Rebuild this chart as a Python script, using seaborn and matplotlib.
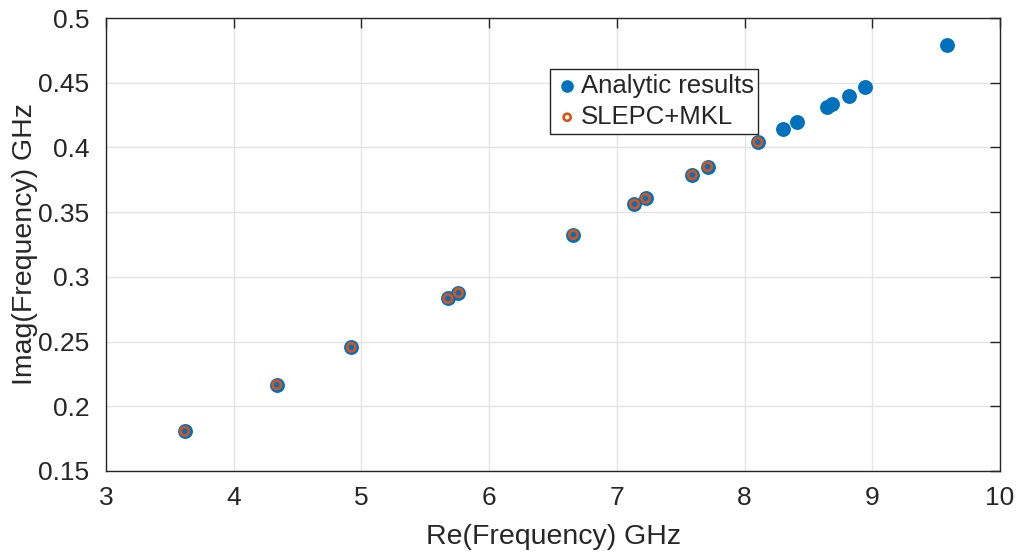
import matplotlib
matplotlib.use("Agg")
import matplotlib.pyplot as plt
import seaborn as sns
import pandas as pd

# Analytic results (all modes)
analytic_re = [3.616, 4.337, 4.921, 5.677, 5.760, 6.659, 7.138, 7.225, 7.591, 7.711,
               8.104, 8.297, 8.410, 8.643, 8.682, 8.821, 8.940, 9.588]
analytic_im = [0.1807, 0.2166, 0.2456, 0.2833, 0.2877, 0.3326, 0.3562, 0.3606, 0.3787, 0.3851,
               0.4041, 0.4141, 0.4195, 0.4316, 0.4333, 0.4398, 0.4465, 0.4788]

# SLEPC+MKL computed modes
slepc_re = [3.616, 4.337, 4.921, 5.677, 5.760, 6.659, 7.138, 7.225, 7.591, 7.711, 8.104]
slepc_im = [0.1807, 0.2166, 0.2456, 0.2833, 0.2877, 0.3326, 0.3562, 0.3606, 0.3787, 0.3851, 0.4041]

x_ticks = [3, 4, 5, 6, 7, 8, 9, 10]
y_ticks = [0.15, 0.2, 0.25, 0.3, 0.35, 0.4, 0.45, 0.5]
y_tick_labels = ["0.15", "0.2", "0.25", "0.3", "0.35", "0.4", "0.45", "0.5"]

sns.set_theme(style="whitegrid")
plt.rcParams["font.family"] = ["Liberation Sans", "DejaVu Sans"]

blue = "#0072BD"
orange = "#D95319"

fig = plt.figure(figsize=(10.19, 5.56), dpi=100)
ax = fig.add_axes([106 / 1019, 1 - 471 / 556, 894 / 1019, 453 / 556])

df_a = pd.DataFrame({"re": analytic_re, "im": analytic_im})
df_s = pd.DataFrame({"re": slepc_re, "im": slepc_im})

sns.scatterplot(data=df_a, x="re", y="im", ax=ax, s=115, color=blue,
                edgecolor=blue, linewidth=0, label="Analytic results", zorder=3)
sns.scatterplot(data=df_s, x="re", y="im", ax=ax, s=36, facecolor="none",
                edgecolor=orange, linewidth=1.9, marker="o", label="SLEPC+MKL", zorder=4)

ax.set_xlim(3, 10)
ax.set_ylim(0.15, 0.5)
ax.set_xticks(x_ticks)
ax.set_yticks(y_ticks)
ax.set_yticklabels(y_tick_labels)
ax.set_xlabel("Re(Frequency) GHz", fontsize=20.5, color="#262626", labelpad=10)
ax.set_ylabel("Imag(Frequency) GHz", fontsize=20.5, color="#262626", labelpad=0)

ax.set_facecolor("white")
ax.grid(True, color="#E3E3E3", linewidth=1.0)
for side in ["left", "right", "top", "bottom"]:
    ax.spines[side].set_visible(True)
    ax.spines[side].set_color("#262626")
    ax.spines[side].set_linewidth(1.0)
ax.tick_params(axis="both", which="both", direction="in", length=7, width=1,
               colors="#262626", labelsize=19, top=True, right=True,
               labelcolor="#262626")
ax.tick_params(axis="x", pad=11)
ax.tick_params(axis="y", pad=12)

leg = ax.legend(loc="upper left", bbox_to_anchor=(0.497, 0.887), fontsize=18.5,
                frameon=True, fancybox=False, edgecolor="#262626",
                borderpad=0.18, handletextpad=0.05, labelspacing=0.28,
                borderaxespad=0, handlelength=0.95, markerscale=0.85)
leg.get_frame().set_linewidth(1.0)
leg.get_frame().set_facecolor("white")
leg.get_frame().set_alpha(1.0)

fig.savefig("out.png", dpi=100, facecolor="white")
